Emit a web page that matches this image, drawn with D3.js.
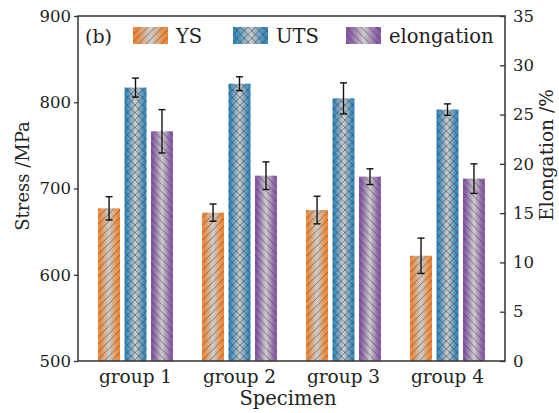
<!DOCTYPE html>
<html>
<head>
<meta charset="utf-8">
<script src="https://cdn.jsdelivr.net/npm/d3@7"></script>
<style>
  html, body { margin: 0; padding: 0; background: #fff; }
  svg { display: block; font-family: "DejaVu Serif", "Liberation Serif", serif; }
</style>
</head>
<body>
<svg id="chart" width="559" height="413"></svg>
<script>
// Mechanical properties per specimen group
const groups = ["group 1", "group 2", "group 3", "group 4"];
const series = ["YS", "UTS", "elongation"];
const ysValues = [677, 672, 675, 622];        // MPa
const ysErrors = [13.5, 10, 16, 20.5];
const utsValues = [817, 821.5, 804.5, 791.5]; // MPa
const utsErrors = [11, 8, 18, 6.6];
const elongValues = [23.3, 18.8, 18.7, 18.5]; // %
const elongErrors = [2.2, 1.4, 0.8, 1.5];
const stressTicks = [500, 600, 700, 800, 900];
const elongTicks = [0, 5, 10, 15, 20, 25, 30, 35];

const colors = { YS: "#ef8a3c", UTS: "#3a8dc2", elongation: "#8a5ca8" };
const hatch = { YS: "fwd", UTS: "cross", elongation: "back" };

const svg = d3.select("#chart");
const plot = { left: 78, right: 505, top: 16, bottom: 361 };

const x = d3.scaleBand().domain(groups).range([plot.left, plot.right])
  .paddingInner(0.28).paddingOuter(0.193);
const xs = d3.scaleBand().domain(series).range([0, x.bandwidth()])
  .paddingInner(0.17).paddingOuter(0);
const yStress = d3.scaleLinear().domain([500, 900]).range([plot.bottom, plot.top]);
const yElong = d3.scaleLinear().domain([0, 35]).range([plot.bottom, plot.top]);

// gradients and hatch patterns
const defs = svg.append("defs");
series.forEach(s => {
  const g = defs.append("linearGradient").attr("id", "grad-" + s)
    .attr("x1", "0").attr("x2", "1").attr("y1", "0").attr("y2", "0");
  g.append("stop").attr("offset", "0").attr("stop-color", colors[s]);
  g.append("stop").attr("offset", "0.1").attr("stop-color", colors[s]);
  g.append("stop").attr("offset", "0.5").attr("stop-color", "#cdcdcd");
  g.append("stop").attr("offset", "0.9").attr("stop-color", colors[s]);
  g.append("stop").attr("offset", "1").attr("stop-color", colors[s]);
});
const hp = 7.5;
const fwdPath = `M-1,1 l2,-2 M0,${hp} l${hp},-${hp} M${hp - 1},${hp + 1} l2,-2`;
const backPath = `M-1,${hp - 1} l2,2 M0,0 l${hp},${hp} M${hp - 1},-1 l2,2`;
const patDefs = { fwd: fwdPath, back: backPath, cross: fwdPath + " " + backPath };
Object.entries(patDefs).forEach(([k, d]) => {
  defs.append("pattern").attr("id", "hatch-" + k)
    .attr("patternUnits", "userSpaceOnUse").attr("width", hp).attr("height", hp)
    .append("path").attr("d", d)
    .attr("stroke", "#3a3a3a").attr("stroke-opacity", 0.7)
    .attr("stroke-width", 0.8).attr("fill", "none");
});

// bar records built from the series arrays
const records = [];
groups.forEach((g, i) => {
  records.push({ g, s: "YS", v: ysValues[i], e: ysErrors[i], y: yStress });
  records.push({ g, s: "UTS", v: utsValues[i], e: utsErrors[i], y: yStress });
  records.push({ g, s: "elongation", v: elongValues[i], e: elongErrors[i], y: yElong });
});

const bars = svg.append("g");
bars.selectAll("rect.fill").data(records).join("rect")
  .attr("class", "fill")
  .attr("x", d => x(d.g) + xs(d.s))
  .attr("width", xs.bandwidth())
  .attr("y", d => d.y(d.v))
  .attr("height", d => d.y.range()[0] - d.y(d.v))
  .attr("fill", d => `url(#grad-${d.s})`);
bars.selectAll("rect.hatch").data(records).join("rect")
  .attr("class", "hatch")
  .attr("x", d => x(d.g) + xs(d.s))
  .attr("width", xs.bandwidth())
  .attr("y", d => d.y(d.v))
  .attr("height", d => d.y.range()[0] - d.y(d.v))
  .attr("fill", d => `url(#hatch-${hatch[d.s]})`);

// error bars
const err = svg.append("g").attr("stroke", "#111").attr("stroke-width", 1.4).attr("fill", "none");
records.forEach(d => {
  const cx = x(d.g) + xs(d.s) + xs.bandwidth() / 2;
  const y1 = d.y(d.v + d.e), y2 = d.y(d.v - d.e);
  err.append("line").attr("x1", cx).attr("x2", cx).attr("y1", y1).attr("y2", y2);
  err.append("line").attr("x1", cx - 3.5).attr("x2", cx + 3.5).attr("y1", y1).attr("y2", y1);
  err.append("line").attr("x1", cx - 3.5).attr("x2", cx + 3.5).attr("y1", y2).attr("y2", y2);
});

// axes
const axisColor = "#333";
const leftAxis = svg.append("g").attr("transform", `translate(${plot.left},0)`)
  .call(d3.axisLeft(yStress).tickValues(stressTicks).tickSize(4).tickPadding(3).tickFormat(d3.format("d")));
const rightAxis = svg.append("g").attr("transform", `translate(${plot.right},0)`)
  .call(d3.axisRight(yElong).tickValues(elongTicks).tickSizeInner(-5).tickSizeOuter(0).tickPadding(8).tickFormat(d3.format("d")));
const bottomAxis = svg.append("g").attr("transform", `translate(0,${plot.bottom})`)
  .call(d3.axisBottom(x).tickSize(0).tickPadding(9));
[leftAxis, rightAxis, bottomAxis].forEach(a => {
  a.select(".domain").remove();
  a.selectAll("line").attr("stroke", axisColor).attr("stroke-width", 1.3);
  a.selectAll("text").attr("fill", "#222").style("font-family", "DejaVu Serif, serif");
});
leftAxis.selectAll("text").style("font-size", "16.5px");
rightAxis.selectAll("text").style("font-size", "16.5px");
bottomAxis.selectAll("text").style("font-size", "18.5px");

// frame
svg.append("rect")
  .attr("x", plot.left).attr("y", plot.top)
  .attr("width", plot.right - plot.left).attr("height", plot.bottom - plot.top)
  .attr("fill", "none").attr("stroke", axisColor).attr("stroke-width", 1.5);

// axis titles
svg.append("text").attr("transform", `translate(29,176) rotate(-90)`)
  .attr("text-anchor", "middle").style("font-size", "18px").attr("fill", "#222")
  .text("Stress /MPa");
svg.append("text").attr("transform", `translate(553,155) rotate(-90)`)
  .attr("text-anchor", "middle").style("font-size", "18.5px").attr("fill", "#222")
  .text("Elongation /%");
svg.append("text").attr("x", 288).attr("y", 405)
  .attr("text-anchor", "middle").style("font-size", "19.5px").attr("fill", "#222")
  .text("Specimen");

// panel label
svg.append("text").attr("x", 85).attr("y", 43)
  .style("font-size", "19px").attr("fill", "#222").text("(b)");

// legend
const legendX = [133, 233, 346];
const leg = svg.append("g").selectAll("g").data(series).join("g")
  .attr("transform", (d, i) => `translate(${legendX[i]},27)`);
leg.append("rect").attr("width", 35).attr("height", 17).attr("fill", d => `url(#grad-${d})`);
leg.append("rect").attr("width", 35).attr("height", 17).attr("fill", d => `url(#hatch-${hatch[d]})`);
leg.append("text").attr("x", 43).attr("y", 16).style("font-size", "19.5px").attr("fill", "#222")
  .text(d => d);
</script>
</body>
</html>
